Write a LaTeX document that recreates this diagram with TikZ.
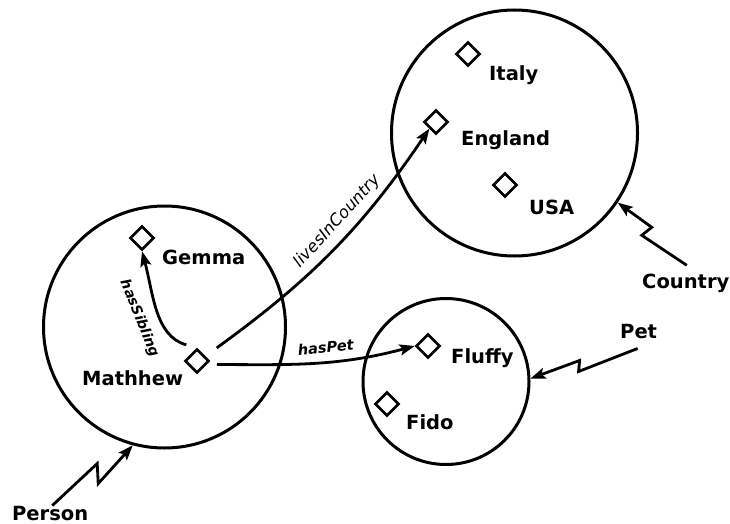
\documentclass[tikz,border=0pt]{standalone}
\usepackage{fontspec}
\setmainfont{DejaVu Sans}
\usepackage{tikz}
\usetikzlibrary{shapes.geometric}
\usetikzlibrary{arrows.meta}
\usetikzlibrary{positioning}

\begin{document}
\begin{tikzpicture}[x=1pt, y=-1pt,
  >={Stealth[length=15pt, width=11pt, inset=3pt]},
  classset/.style={circle, draw, line width=3pt, minimum size=#1, inner sep=0pt},
  member/.style={diamond, draw, line width=2.6pt, minimum width=24pt, minimum height=24pt, inner sep=0pt},
  tag/.style={anchor=base west, inner sep=0pt, font=\fontsize{19.5}{23}\selectfont\bfseries},
  relarrow/.style={->, line width=2.8pt},
  proplbl/.style={sloped, inner sep=4pt, font=\fontsize{14.5}{17}\selectfont\bfseries\itshape},
  isa/.style={->, line width=2.8pt, line join=miter}]
  \useasboundingbox (0,0) rectangle (730,524);

  % the three classes
  \node[classset=242pt] (people) at (164.5,327) {};
  \node[classset=246pt] (countries) at (514.5,133) {};
  \node[classset=166pt] (pets) at (446,381.5) {};

  % individuals
  \node[member] (gemma) at (142,238) {};
  \node[member] (mathhew) at (197,361) {};
  \node[member] (italy) at (468,54) {};
  \node[member] (england) at (436,122) {};
  \node[member] (usa) at (505,185) {};
  \node[member] (fluffy) at (428,346) {};
  \node[member] (fido) at (387,404) {};

  \node[tag] (gemmaLbl) at (162,264) {Gemma};
  \node[tag] (mathhewLbl) at (82,385) {Mathhew};
  \node[tag] (italyLbl) at (489,81) {Italy};
  \node[tag] (englandLbl) at (461,146) {England};
  \node[tag] (usaLbl) at (529,214) {USA};
  \node[tag] (fluffyLbl) at (451,363) {Fluffy};
  \node[tag] (fidoLbl) at (406,429) {Fido};

  \node[tag] (countryLbl) at (642,288) {Country};
  \node[tag] (personLbl) at (12,520) {Person};
  \node[tag] (petLbl) at (620,338) {Pet};

  % properties
  \draw[relarrow, shorten <=14pt] (mathhew.30) to[out=36, in=236]
    node[proplbl, pos=0.6, above=3pt, font=\fontsize{16.5}{19}\selectfont\itshape] {livesInCountry} (england.south west);
  \draw[relarrow, shorten <=10pt] (mathhew.-20) to[out=0, in=195]
    node[proplbl, pos=0.58, above=4pt] {hasPet} (fluffy.west);
  \draw[relarrow, shorten <=11pt] (mathhew.north) to[out=165, in=-75]
    node[proplbl, pos=0.5, below=8pt, font=\fontsize{14}{17}\selectfont\bfseries\itshape] {hasSibling} (gemma.south);

  % class names
  \draw[isa] (personLbl.north) ++(2,0) -- ++(45,-42) -- ++(1,20) -- (people.255);
  \draw[isa] (countryLbl.north) ++(1,-8) -- ++(-45,-30) -- ++(10,-8) -- (countries.326);
  \draw[isa] (petLbl.south) ++(-1,10) -- ++(-59,23) -- ++(1,-11) -- (pets.2);
\end{tikzpicture}
\end{document}
